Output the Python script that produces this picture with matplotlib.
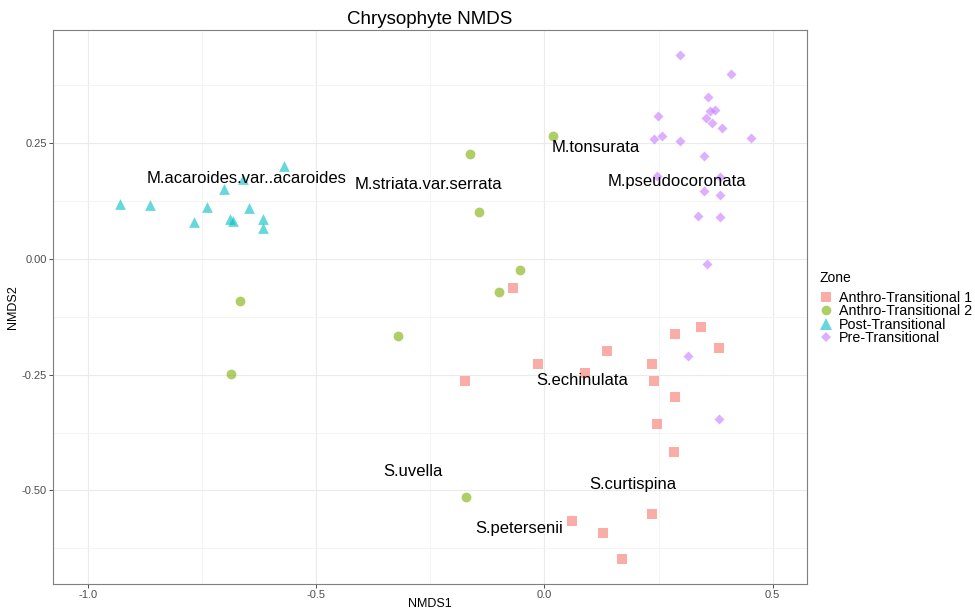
import numpy as np
import matplotlib
matplotlib.use("Agg")
import matplotlib.pyplot as plt
from matplotlib.lines import Line2D

plt.rcParams["font.family"] = ["Liberation Sans", "DejaVu Sans"]

# site scores by zone
at1_x = [-0.069, -0.175, -0.014, 0.089, 0.138, 0.236, 0.241, 0.287, 0.344, 0.382,
         0.286, 0.247, 0.284, 0.236, 0.061, 0.128, 0.170]
at1_y = [-0.062, -0.263, -0.227, -0.246, -0.199, -0.226, -0.263, -0.161, -0.147, -0.193,
         -0.297, -0.356, -0.416, -0.551, -0.566, -0.591, -0.648]

at2_x = [-0.667, -0.688, -0.322, -0.163, 0.018, -0.143, -0.053, -0.099, -0.172]
at2_y = [-0.090, -0.249, -0.166, 0.228, 0.266, 0.101, -0.024, -0.071, -0.515]

post_x = [-0.931, -0.865, -0.768, -0.741, -0.702, -0.662, -0.690, -0.682, -0.648,
          -0.618, -0.617, -0.571]
post_y = [0.119, 0.116, 0.080, 0.112, 0.152, 0.174, 0.086, 0.083, 0.110, 0.086,
          0.068, 0.202]

pre_x = [0.297, 0.409, 0.359, 0.363, 0.373, 0.354, 0.368, 0.390, 0.249, 0.257, 0.241,
         0.297, 0.453, 0.350, 0.246, 0.385, 0.349, 0.385, 0.337, 0.385, 0.356, 0.314,
         0.383]
pre_y = [0.441, 0.400, 0.350, 0.320, 0.322, 0.305, 0.295, 0.283, 0.309, 0.266, 0.259,
         0.254, 0.262, 0.223, 0.179, 0.178, 0.146, 0.138, 0.094, 0.091, -0.011, -0.210,
         -0.345]

# species scores
species = ["M.acaroides.var..acaroides", "M.striata.var.serrata", "M.tonsurata",
           "M.pseudocoronata", "S.echinulata", "S.uvella", "S.curtispina", "S.petersenii"]
sp_x = [-0.653, -0.255, 0.113, 0.291, 0.083, -0.288, 0.194, -0.056]
sp_y = [0.173, 0.162, 0.240, 0.168, -0.263, -0.460, -0.488, -0.582]

zones = ["Anthro-Transitional 1", "Anthro-Transitional 2", "Post-Transitional", "Pre-Transitional"]
colors = ["#F8766D", "#7CAE00", "#00BFC4", "#C77CFF"]
markers = ["s", "o", "^", "D"]
sizes = [50, 50, 60, 26]

fig = plt.figure(figsize=(9.75, 6.11), dpi=100)
ax = fig.add_axes([0.0547, 0.0442, 0.7727, 0.9072])

data = [(at1_x, at1_y), (at2_x, at2_y), (post_x, post_y), (pre_x, pre_y)]
for (xs, ys), c, m, s in zip(data, colors, markers, sizes):
    ax.scatter(xs, ys, c=c, marker=m, s=s, alpha=0.6, linewidths=0, zorder=3)

for name, x, y in zip(species, sp_x, sp_y):
    ax.text(x, y, name, ha="center", va="center", fontsize=12, color="black", zorder=4)

ax.set_xlim(-1.077, 0.575)
ax.set_ylim(-0.702, 0.4955)
ax.set_xticks([-1.0, -0.5, 0.0, 0.5])
ax.set_xticklabels(["-1.0", "-0.5", "0.0", "0.5"])
ax.set_yticks([-0.5, -0.25, 0.0, 0.25])
ax.set_yticklabels(["-0.50", "-0.25", "0.00", "0.25"])
ax.set_xticks([-0.75, -0.25, 0.25], minor=True)
ax.set_yticks([-0.625, -0.375, -0.125, 0.125, 0.375], minor=True)
ax.grid(True, which="major", color="#EBEBEB", linewidth=0.8, zorder=0)
ax.grid(True, which="minor", color="#F3F3F3", linewidth=0.6, zorder=0)
ax.set_axisbelow(True)
ax.tick_params(which="major", length=3, width=0.6, color="#333333", labelsize=8,
               labelcolor="#4D4D4D", pad=1.5)
ax.tick_params(which="minor", length=0)
for sp in ax.spines.values():
    sp.set_color("#7F7F7F")
    sp.set_linewidth(0.8)

fig.text(0.441, 1 - 604 / 611, "NMDS1", ha="center", va="center", fontsize=9)
fig.text(0.0133, 0.4978, "NMDS2", ha="center", va="center", fontsize=9, rotation=90)
ax.set_title("Chrysophyte NMDS", fontsize=13.5, pad=4)

# legend title drawn separately to get the wider gap under it
fig.text(819 / 975, 1 - 278 / 611, "Zone", ha="left", va="center", fontsize=10)
handles = [Line2D([], [], linestyle="none", marker=m, color=c, alpha=0.6,
                  markersize=ms, markeredgewidth=0)
           for c, m, ms in zip(colors, markers, [7, 7, 8, 5])]
leg = fig.legend(handles, zones, loc="upper left",
                 bbox_to_anchor=(0.840, 1 - 291 / 611), frameon=False, fontsize=10.3,
                 handlelength=1.0, handletextpad=0.4,
                 labelspacing=-0.05, borderaxespad=0, borderpad=0)

fig.savefig("out.png", dpi=100)
